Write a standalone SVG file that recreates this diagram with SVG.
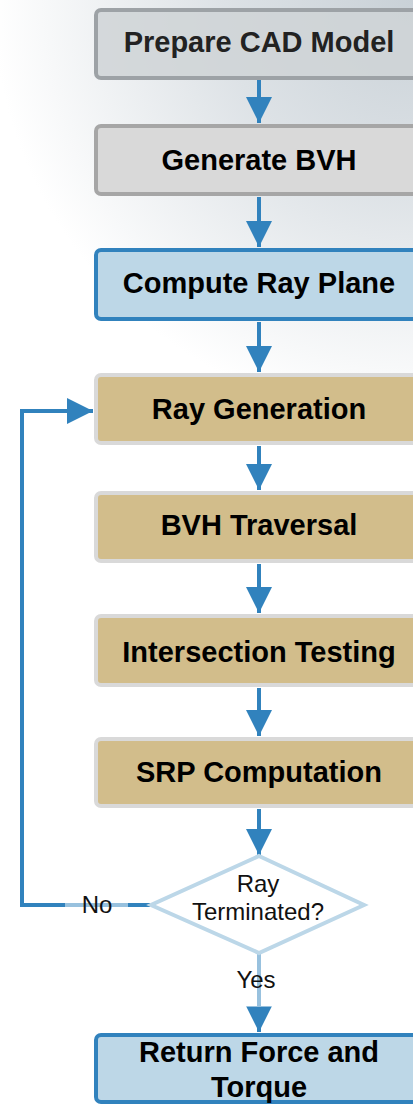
<svg xmlns="http://www.w3.org/2000/svg" width="413" height="1106" viewBox="0 0 413 1106">
  <defs>
    <radialGradient id="haze" cx="413" cy="0" r="420" gradientUnits="userSpaceOnUse">
      <stop offset="0" stop-color="#c9d1d7"/>
      <stop offset="0.45" stop-color="#dde2e6"/>
      <stop offset="1" stop-color="#ffffff"/>
    </radialGradient>
    <marker id="head" viewBox="0 0 26 30" markerWidth="26" markerHeight="30" refX="26" refY="13" orient="auto" markerUnits="userSpaceOnUse">
      <path d="M0,0 L26,13 L0,26 Z" fill="#3182bd"/>
    </marker>
    <style>
      .box { stroke-width: 4; }
      .grey1 { fill: #cfd3d6; fill-opacity: 0.85; stroke: #9da2a6; }
      .grey2 { fill: #d9d9d9; stroke: #a6a6a6; }
      .blue { fill: #bdd7e7; stroke: #3182bd; }
      .tan { fill: #d2bd8b; stroke: #d9d9d9; }
      .lbl { font-family: "Liberation Sans", Arial, sans-serif; font-weight: bold; font-size: 29px; text-anchor: middle; fill: #000; }
      .lbl-d { fill: #222; }
      .small { font-family: "Liberation Sans", Arial, sans-serif; font-size: 24px; text-anchor: middle; fill: #111; }
      .edge { stroke: #3182bd; stroke-width: 4; fill: none; }
    </style>
  </defs>

  <rect x="0" y="0" width="413" height="1106" fill="#ffffff"/>
  <rect x="0" y="0" width="413" height="420" fill="url(#haze)"/>

  <!-- connectors -->
  <g id="connectors">
    <line class="edge" x1="259" y1="80" x2="259" y2="123" marker-end="url(#head)"/>
    <line class="edge" x1="259" y1="197" x2="259" y2="247" marker-end="url(#head)"/>
    <line class="edge" x1="259" y1="322" x2="259" y2="372" marker-end="url(#head)"/>
    <line class="edge" x1="259" y1="446" x2="259" y2="490" marker-end="url(#head)"/>
    <line class="edge" x1="259" y1="564" x2="259" y2="613" marker-end="url(#head)"/>
    <line class="edge" x1="259" y1="688" x2="259" y2="736" marker-end="url(#head)"/>
    <line class="edge" x1="259" y1="809" x2="259" y2="855" marker-end="url(#head)"/>
    <!-- loop back: No -->
    <polyline class="edge" points="150,905 22,905 22,411 93,411" marker-end="url(#head)"/>
    <!-- exit: Yes -->
    <line class="edge" x1="259" y1="953" x2="259" y2="1032" marker-end="url(#head)"/>
    <!-- label backgrounds -->
    <rect x="65" y="893" width="63" height="24" fill="#ffffff" fill-opacity="0.5"/>
    <rect x="232" y="953" width="54" height="54" fill="#ffffff" fill-opacity="0.5"/>
    <text class="small" x="97" y="913">No</text>
    <text class="small" x="256" y="988">Yes</text>
  </g>

  <g id="prepare-cad">
    <rect class="box grey1" x="96" y="10" width="330" height="68" rx="5"/>
    <text class="lbl lbl-d" x="259" y="52">Prepare CAD Model</text>
  </g>
  <g id="generate-bvh">
    <rect class="box grey2" x="96" y="126" width="330" height="68" rx="5"/>
    <text class="lbl" x="259" y="170">Generate BVH</text>
  </g>
  <g id="compute-ray-plane">
    <rect class="box blue" x="96" y="250" width="330" height="69" rx="5"/>
    <text class="lbl" x="259" y="293">Compute Ray Plane</text>
  </g>
  <g id="ray-generation">
    <rect class="box tan" x="96" y="375" width="330" height="68" rx="5"/>
    <text class="lbl" x="259" y="419">Ray Generation</text>
  </g>
  <g id="bvh-traversal">
    <rect class="box tan" x="96" y="493" width="330" height="68" rx="5"/>
    <text class="lbl" x="259" y="535">BVH Traversal</text>
  </g>
  <g id="intersection-testing">
    <rect class="box tan" x="96" y="616" width="330" height="69" rx="5"/>
    <text class="lbl" x="259" y="662">Intersection Testing</text>
  </g>
  <g id="srp-computation">
    <rect class="box tan" x="96" y="739" width="330" height="67" rx="5"/>
    <text class="lbl" x="259" y="782">SRP Computation</text>
  </g>
  <g id="ray-terminated">
    <polygon points="259,856 364,905 259,953 151,905" fill="#ffffff" stroke="#bcd7e8" stroke-width="4"/>
    <text class="small" x="258" y="892">Ray</text>
    <text class="small" x="258" y="920">Terminated?</text>
  </g>
  <g id="return-force">
    <rect class="box blue" x="96" y="1035" width="330" height="67" rx="5"/>
    <text class="lbl" x="259" y="1062">Return Force and</text>
    <text class="lbl" x="259" y="1097">Torque</text>
  </g>
</svg>
